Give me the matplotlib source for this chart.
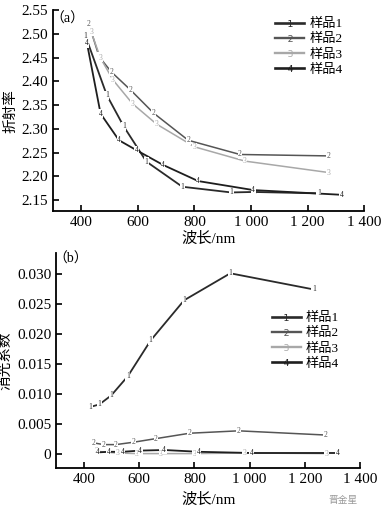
import numpy as np
import matplotlib.pyplot as plt
from matplotlib.lines import Line2D

plt.rcParams['font.family'] = ['Liberation Serif', 'Noto Sans CJK SC']

# (a) refractive index
a_x1 = [415, 490, 550, 630, 757, 930, 1010, 1240]
a_y1 = [2.495, 2.371, 2.305, 2.231, 2.178, 2.166, 2.167, 2.164]
a_x2 = [427, 463, 506, 574, 656, 778, 961, 1274]
a_y2 = [2.520, 2.452, 2.420, 2.382, 2.333, 2.276, 2.246, 2.243]
a_x3 = [435, 467, 512, 581, 666, 801, 979, 1274]
a_y3 = [2.504, 2.450, 2.403, 2.353, 2.310, 2.262, 2.232, 2.208]
a_x4 = [420, 468, 533, 595, 689, 813, 1008, 1321]
a_y4 = [2.480, 2.332, 2.276, 2.255, 2.224, 2.190, 2.171, 2.161]

# (b) extinction coefficient
b_x1 = [424, 456, 499, 559, 642, 763, 930, 1232]
b_y1 = [0.0078, 0.0082, 0.0097, 0.0129, 0.0189, 0.0256, 0.0301, 0.0274]
b_x2 = [434, 472, 516, 580, 661, 783, 960, 1274]
b_y2 = [0.0018, 0.0015, 0.0015, 0.0019, 0.0025, 0.0034, 0.0038, 0.0031]
b_x3 = [445, 487, 522, 592, 679, 801, 981, 1278]
b_y3 = [0.0004, 0.0002, 0.0001, 0.0000, 0.0000, 0.0000, 0.0001, 0.0000]
b_x4 = [451, 490, 540, 604, 691, 816, 1007, 1318]
b_y4 = [0.0002, 0.0003, 0.0003, 0.0005, 0.0006, 0.0003, 0.0001, 0.0001]

labels = ['样品1', '样品2', '样品3', '样品4']
colors = ['#2a2a2a', '#555555', '#a8a8a8', '#1e1e1e']
widths = [1.3, 1.1, 1.1, 1.3]
xticks = [400, 600, 800, 1000, 1200, 1400]
xticklabels = ['400', '600', '800', '1 000', '1 200', '1 400']


def draw(ax, series):
    for i, (x, y) in enumerate(series):
        ax.plot(x, y, color=colors[i], lw=widths[i], zorder=2)
        for xx, yy in zip(x, y):
            ax.text(xx, yy, str(i + 1), color=colors[i], fontsize=5.5,
                    ha='center', va='center', zorder=3,
                    bbox=dict(boxstyle='square,pad=0.05', fc='white', ec='none'))
    handles = [Line2D([], [], color=colors[i], lw=widths[i] + 0.6,
                      marker='$%d$' % (i + 1), markersize=5,
                      markerfacecolor=colors[i], markeredgewidth=0)
               for i in range(4)]
    return handles


def style(ax):
    for s in ['top', 'right']:
        ax.spines[s].set_visible(False)
    ax.spines['left'].set_linewidth(1.3)
    ax.spines['bottom'].set_linewidth(1.3)
    ax.tick_params(direction='in', length=4, width=1.2, labelsize=11)
    ax.set_xticks(xticks)
    ax.set_xticklabels(xticklabels)
    ax.set_xlim(300, 1400)
    ax.set_xlabel('波长/nm', fontsize=11, labelpad=2)


fig = plt.figure(figsize=(3.82, 5.12), dpi=100)

ax1 = fig.add_axes([0.139, 0.588, 0.814, 0.392])
hs = draw(ax1, [(a_x1, a_y1), (a_x2, a_y2), (a_x3, a_y3), (a_x4, a_y4)])
style(ax1)
ax1.set_ylim(2.127, 2.55)
ax1.set_yticks([2.15, 2.20, 2.25, 2.30, 2.35, 2.40, 2.45, 2.50, 2.55])
ax1.set_ylabel('折射率', fontsize=10.5, labelpad=3)
ax1.text(-0.01, 0.99, '（a）', transform=ax1.transAxes, fontsize=10,
         ha='left', va='top')
ax1.legend(hs, labels, loc='upper right', bbox_to_anchor=(0.97, 1.02),
           frameon=False, fontsize=9.5, handlelength=2.2, labelspacing=0.22,
           handletextpad=0.4)

ax2 = fig.add_axes([0.147, 0.086, 0.796, 0.420])
hs = draw(ax2, [(b_x1, b_y1), (b_x2, b_y2), (b_x3, b_y3), (b_x4, b_y4)])
style(ax2)
ax2.xaxis.labelpad = 5
ax2.set_ylim(-0.0024, 0.0335)
ax2.set_yticks([0, 0.005, 0.010, 0.015, 0.020, 0.025, 0.030])
ax2.set_yticklabels(['0', '0.005', '0.010', '0.015', '0.020', '0.025', '0.030'])
ax2.set_ylabel('消光系数', fontsize=10.5, labelpad=3)
ax2.text(-0.01, 1.0, '（b）', transform=ax2.transAxes, fontsize=10,
         ha='left', va='top')
ax2.legend(hs, labels, loc='upper right', bbox_to_anchor=(0.97, 0.78),
           frameon=False, fontsize=9.5, handlelength=2.2, labelspacing=0.22,
           handletextpad=0.4)

fig.text(0.86, 0.018, '晋金星', fontsize=7, color='#999999', ha='left')

fig.savefig('out.png', dpi=100)
